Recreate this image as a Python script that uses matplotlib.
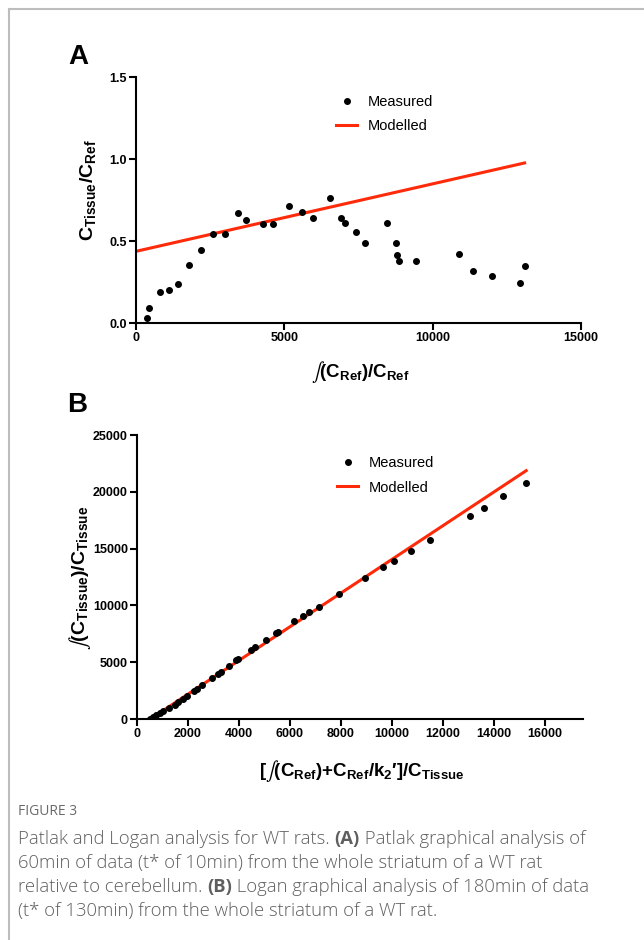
"""
Figure 3 — Patlak (A) and Logan (B) graphical analysis for a WT rat.
Two stacked scatter panels with the fitted line, plus the figure caption below.
"""

import matplotlib
matplotlib.use("Agg")
import matplotlib.pyplot as plt
from matplotlib.lines import Line2D

OUTPUT_FILE = "out.png"
W, H = 644, 940          # figure size in pixels (dpi = 100)

# --- Panel A: Patlak plot ---
patlak_x = [360, 449, 821, 1113, 1406, 1777, 2182, 2587, 3013, 3452, 3722,
            4273, 4621, 5171, 5610, 5959, 6544, 6905, 7050, 7432, 7724,
            8455, 8758, 8792, 8871, 9434, 10884, 11357, 12008, 12942, 13099]
patlak_y = [0.032, 0.091, 0.189, 0.199, 0.235, 0.355, 0.445, 0.543, 0.540,
            0.671, 0.628, 0.601, 0.604, 0.711, 0.674, 0.642, 0.760, 0.642,
            0.611, 0.557, 0.490, 0.611, 0.490, 0.415, 0.378, 0.380, 0.423,
            0.319, 0.288, 0.244, 0.345]
patlak_fit_x = [0, 13100]
patlak_fit_y = [0.437, 0.976]
patlak_xticks = [0, 5000, 10000, 15000]
patlak_yticks = [0.0, 0.5, 1.0, 1.5]

# --- Panel B: Logan plot ---
logan_x = [525, 627, 761, 918, 1020, 1271, 1490, 1624, 1820, 1949, 2251,
           2341, 2549, 2941, 3165, 3282, 3596, 3898, 3976, 4471, 4643, 5047,
           5467, 5530, 6172, 6525, 6745, 7153, 7937, 8941, 9663, 10067,
           10761, 11478, 13047, 13596, 14380, 15271]
logan_y = [26, 141, 352, 528, 668, 994, 1258, 1460, 1786, 2023, 2427, 2638,
           3017, 3606, 3984, 4160, 4688, 5154, 5303, 6033, 6297, 6913, 7564,
           7678, 8584, 9024, 9376, 9903, 11046, 12427, 13368, 13923, 14802,
           15796, 17907, 18611, 19639, 20809]
logan_fit_x = [525, 15270]
logan_fit_y = [0, 21860]
logan_xticks = list(range(0, 16001, 2000))
logan_yticks = list(range(0, 25001, 5000))

RED = "#ff2a0a"
CAPTION_FONT = "Open Sans"
CAPTION_COLOR = "#5f5f5f"
LABEL_SIZE = 13.5

plt.rcParams["font.family"] = ["Liberation Sans", "DejaVu Sans"]
# STIX даёт наклонный высокий знак интеграла, остальной текст — Arial-подобный bold
plt.rcParams["mathtext.fontset"] = "custom"
plt.rcParams["mathtext.rm"] = "STIXGeneral"
plt.rcParams["mathtext.it"] = "STIXGeneral:italic"
plt.rcParams["mathtext.bf"] = "Liberation Sans:bold"


def fx(px):
    return px / W


def fy(py):
    return 1 - py / H


def style_axes(ax, xticks, yticks, xfmt, yfmt, xlim, ylim):
    for side in ("top", "right"):
        ax.spines[side].set_visible(False)
    for side in ("left", "bottom"):
        ax.spines[side].set_linewidth(1.5)
    ax.set_xlim(*xlim)
    ax.set_ylim(*ylim)
    ax.set_xticks(xticks, [xfmt.format(v) for v in xticks], fontweight="bold")
    ax.set_yticks(yticks, [yfmt.format(v) for v in yticks], fontweight="bold")
    ax.tick_params(direction="out", length=5, width=1.5, labelsize=9, pad=1.5)
    ax.patch.set_alpha(0)


def add_legend(ax, left_px, top_px):
    ax.legend(loc="upper left", bbox_to_anchor=(fx(left_px), fy(top_px)),
              bbox_transform=ax.figure.transFigure, frameon=False,
              fontsize=10.5, handlelength=1.45, handletextpad=0.75,
              labelspacing=0.72, borderpad=0, borderaxespad=0)


fig = plt.figure(figsize=(W / 100, H / 100), dpi=100)

# ---------------- Panel A ----------------
ax_a = fig.add_axes([fx(136), fy(323), fx(581) - fx(136), fy(77) - fy(323)])
ax_a.plot(patlak_x, patlak_y, "o", color="black", ms=4, zorder=3, label="Measured")
ax_a.plot(patlak_fit_x, patlak_fit_y, color=RED, lw=2.2, zorder=2, label="Modelled")
style_axes(ax_a, patlak_xticks, patlak_yticks, "{:d}", "{:.1f}", (0, 15000), (0, 1.5))
add_legend(ax_a, 336, 95)

fig.text(fx(78), fy(57), "A", fontsize=20, fontweight="bold", ha="center", va="center")
fig.text(fx(88), fy(190), r"$\mathbf{C_{Tissue}/C_{Ref}}$", fontsize=LABEL_SIZE + 0.5,
         rotation=90, ha="center", va="center")
fig.text(fx(360), fy(372), r"$\int\mathbf{(C_{Ref})/C_{Ref}}$", fontsize=LABEL_SIZE,
         ha="center", va="center")

# ---------------- Panel B ----------------
ax_b = fig.add_axes([fx(137), fy(719), fx(583) - fx(137), fy(435) - fy(719)])
ax_b.plot(logan_x, logan_y, "o", color="black", ms=4, zorder=3, label="Measured")
ax_b.plot(logan_fit_x, logan_fit_y, color=RED, lw=2.2, zorder=2, label="Modelled")
style_axes(ax_b, logan_xticks, logan_yticks, "{:d}", "{:d}", (0, 17500), (0, 25000))
add_legend(ax_b, 337, 456)

fig.text(fx(77), fy(405), "B", fontsize=20, fontweight="bold", ha="center", va="center")
fig.text(fx(80), fy(578), r"$\int\mathbf{(C_{Tissue})/C_{Tissue}}$", fontsize=LABEL_SIZE + 0.5,
         rotation=90, ha="center", va="center")
fig.text(fx(362), fy(771),
         r"$\mathbf{[}\int\mathbf{(C_{Ref}){+}C_{Ref}/k_{2}{\prime}]/C_{Tissue}}$",
         fontsize=LABEL_SIZE, ha="center", va="center")

# ---------------- frame and caption ----------------
fig.add_artist(Line2D([fx(8.5), fx(8.5)], [0, fy(9)], transform=fig.transFigure,
                      color="#bdbdbd", lw=1.5))
fig.add_artist(Line2D([fx(8.5), 1], [fy(9), fy(9)], transform=fig.transFigure,
                      color="#bdbdbd", lw=1.5))

renderer = fig.canvas.get_renderer()


def text_advance(txt, size, weight):
    # ширина с учётом пробелов: меряем с символом-ограничителем и вычитаем его
    probe = fig.text(0, 0, txt + "|", fontsize=size, fontweight=weight, family=CAPTION_FONT)
    bar = fig.text(0, 0, "|", fontsize=size, fontweight=weight, family=CAPTION_FONT)
    w = probe.get_window_extent(renderer).width - bar.get_window_extent(renderer).width
    probe.remove()
    bar.remove()
    return w


def caption_line(x_px, base_px, parts, size=13.3):
    x = x_px
    for txt, weight in parts:
        fig.text(fx(x), fy(base_px), txt, fontsize=size, fontweight=weight,
                 family=CAPTION_FONT, color=CAPTION_COLOR, va="baseline")
        x += text_advance(txt, size, weight)


fig.text(fx(18), fy(815), "FIGURE 3", fontsize=10, family=CAPTION_FONT,
         color="#6a6a6a", va="baseline")
caption_line(18, 844, [("Patlak and Logan analysis for WT rats. ", "light"),
                       ("(A)", "bold"),
                       (" Patlak graphical analysis of", "light")])
caption_line(18, 868, [("60min of data (t* of 10min) from the whole striatum of a WT rat", "light")])
caption_line(18, 892, [("relative to cerebellum. ", "light"),
                       ("(B)", "bold"),
                       (" Logan graphical analysis of 180min of data", "light")])
caption_line(18, 916, [("(t* of 130min) from the whole striatum of a WT rat.", "light")])

fig.savefig(OUTPUT_FILE, dpi=100)
print(f"Saved {OUTPUT_FILE}")
